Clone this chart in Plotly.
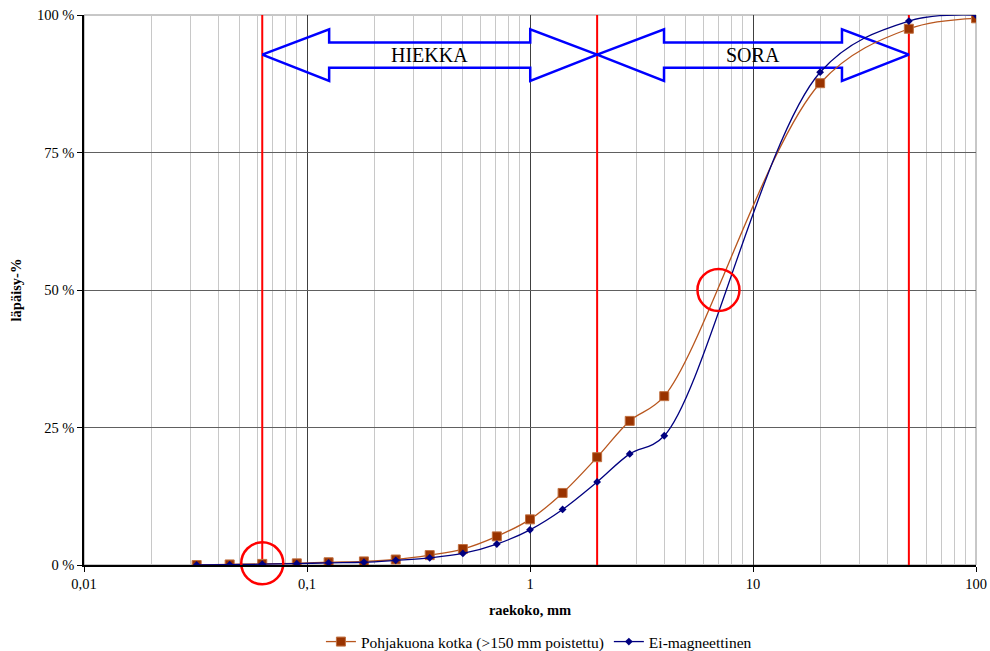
import plotly.graph_objects as go
import numpy as np

# --- data ---
sieve_mm = [0.032, 0.045, 0.063, 0.09, 0.125, 0.18, 0.25, 0.355, 0.5, 0.71, 1, 1.4, 2, 2.8, 4, 20, 50, 100]
pohjakuona = [0.0, 0.1, 0.2, 0.3, 0.5, 0.65, 1.0, 1.8, 2.9, 5.2, 8.3, 13.1, 19.6, 26.2, 30.7, 87.6, 97.5, 99.4]
ei_magneettinen = [0.0, 0.05, 0.15, 0.25, 0.4, 0.5, 0.85, 1.3, 2.1, 3.8, 6.4, 10.1, 15.1, 20.2, 23.5, 89.6, 98.9, 100.0]

series_names = ["Pohjakuona kotka (>150 mm poistettu)", "Ei-magneettinen"]

boundaries_mm = [0.063, 2, 50]          # red limit lines
ranges = [("HIEKKA", 0.063, 2), ("SORA", 2, 50)]
circle_x = [0.063, 7.0]
circle_y = [0.3, 50.0]

x_tickvals = [0.01, 0.1, 1, 10, 100]
x_ticktext = ["0,01", "0,1", "1", "10", "100"]
y_tickvals = [0, 25, 50, 75, 100]
y_ticktext = ["0 %", "25 %", "50 %", "75 %", "100 %"]

FONT = "Liberation Serif, Times New Roman, serif"
FS = 14.5

fig = go.Figure()

# red boundary lines
for b in boundaries_mm:
    fig.add_trace(go.Scatter(x=[b, b], y=[0, 101], mode="lines",
                             line=dict(color="#FF0000", width=2),
                             showlegend=False, hoverinfo="skip", cliponaxis=False))

# arrows
head = 0.3
y_c, y_ht, y_hb, y_st, y_sb = 92.8, 97.4, 88.0, 95.0, 90.4
for label, xl, xr in ranges:
    a = xl * 10 ** head
    b = xr / 10 ** head
    xs = [xl, a, a, b, b, xr, b, b, a, a, xl]
    ys = [y_c, y_ht, y_st, y_st, y_ht, y_c, y_hb, y_sb, y_sb, y_hb, y_c]
    fig.add_trace(go.Scatter(x=xs, y=ys, mode="lines",
                             line=dict(color="#0000FF", width=2.5),
                             showlegend=False, hoverinfo="skip"))
    fig.add_annotation(x=np.log10(np.sqrt(xl * xr)), y=y_c, text=label, showarrow=False,
                       font=dict(family=FONT, size=20, color="black"),
                       xref="x", yref="y")

# data series
fig.add_trace(go.Scatter(x=sieve_mm, y=pohjakuona, name=series_names[0],
                         mode="lines+markers",
                         line=dict(color="#B8561E", width=1.3, shape="spline", smoothing=1),
                         marker=dict(symbol="square", size=9, color="#993300",
                                     line=dict(color="#C07040", width=1))))
fig.add_trace(go.Scatter(x=sieve_mm, y=ei_magneettinen, name=series_names[1],
                         mode="lines+markers",
                         line=dict(color="#000080", width=1.3, shape="spline", smoothing=1),
                         marker=dict(symbol="diamond", size=6, color="#000080")))

# red circles
fig.add_trace(go.Scatter(x=circle_x, y=circle_y, mode="markers",
                         marker=dict(symbol="circle-open", size=42, color="#FF0000",
                                     line=dict(width=2.5, color="#FF0000")),
                         showlegend=False, hoverinfo="skip", cliponaxis=False))

fig.update_layout(
    width=990, height=651,
    margin=dict(l=84, r=14, t=15, b=86, autoexpand=False),
    paper_bgcolor="white", plot_bgcolor="white",
    font=dict(family=FONT, size=FS, color="black"),
    showlegend=True,
    legend=dict(orientation="h", x=0.51, xanchor="center", y=-0.14, yanchor="middle",
                font=dict(family=FONT, size=15.5), tracegroupgap=0),
    xaxis=dict(type="log", range=[-2, 2], tickvals=x_tickvals, ticktext=x_ticktext,
               automargin=False,
               showgrid=True, gridcolor="#404040", gridwidth=1,
               minor=dict(dtick="D1", showgrid=True, gridcolor="#C8C8C8", gridwidth=1, ticks=""),
               showline=True, linecolor="black", linewidth=1.5, mirror=False,
               ticks="outside", ticklen=5, tickcolor="black",
               title=dict(text="<b>raekoko, mm</b>", font=dict(family=FONT, size=FS), standoff=14),
               zeroline=False),
    yaxis=dict(range=[0, 100], tickvals=y_tickvals, ticktext=y_ticktext,
               automargin=False,
               showgrid=True, gridcolor="#606060", gridwidth=1,
               showline=True, linecolor="black", linewidth=1.5,
               ticks="outside", ticklen=5, tickcolor="black",
               title=dict(text="<b>läpäisy-%</b>", font=dict(family=FONT, size=FS), standoff=12),
               zeroline=False),
)

# frame top/right gray
fig.add_shape(type="rect", xref="paper", yref="paper", x0=0, x1=1, y0=0, y1=1,
              line=dict(color="#909090", width=1), layer="below")

fig.write_html("out.html")
